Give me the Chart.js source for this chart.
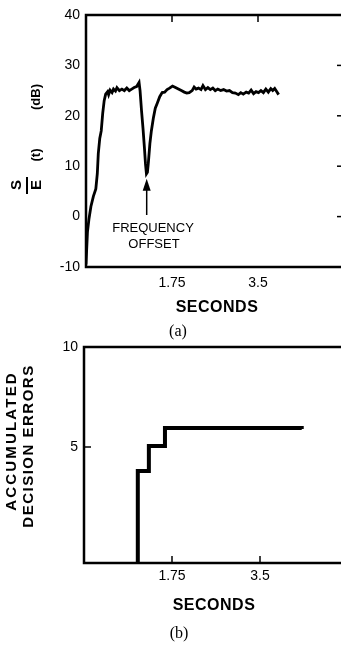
<!DOCTYPE html>
<html>
<head>
<meta charset="utf-8">
<title>S/E and accumulated decision errors</title>
<script src="https://cdn.jsdelivr.net/npm/chart.js@4.4.0/dist/chart.umd.min.js"></script>
<style>
    html, body { margin: 0; padding: 0; background: #fff; width: 341px; height: 646px; overflow: hidden; position: relative; }
    canvas { position: absolute; left: 0; }
    #chartA { top: 0; }
    #chartB { top: 330px; }
</style>
</head>
<body>
<canvas id="chartA" width="350" height="345"></canvas>
<canvas id="chartB" width="350" height="316"></canvas>
<script>
// (a) S/E(t) in dB against time
const snrTimes = [0.00, 0.03, 0.06, 0.10, 0.15, 0.20, 0.23, 0.25, 0.28, 0.31, 0.34, 0.37, 0.40, 0.44, 0.46, 0.49,
    0.53, 0.56, 0.60, 0.63, 0.68, 0.73, 0.78, 0.83, 0.88, 0.93, 0.98, 1.03, 1.08, 1.10, 1.13, 1.16,
    1.19, 1.21, 1.23, 1.25, 1.27, 1.30, 1.33, 1.37, 1.41, 1.45, 1.50, 1.55, 1.60, 1.65, 1.70, 1.76,
    1.82, 1.88, 1.94, 2.00, 2.05, 2.10, 2.16, 2.20, 2.24, 2.29, 2.34, 2.38, 2.43, 2.48, 2.53, 2.58,
    2.63, 2.68, 2.74, 2.80, 2.86, 2.92, 2.98, 3.04, 3.10, 3.15, 3.20, 3.26, 3.31, 3.36, 3.41, 3.46,
    3.51, 3.56, 3.61, 3.66, 3.71, 3.76, 3.80, 3.84, 3.88, 3.92];
const snrValues = [-9.5, -3.0, -0.5, 2.0, 4.0, 5.5, 8.5, 12.5, 15.5, 17.0, 20.5, 23.0, 24.3, 24.8, 24.2, 25.1,
    24.6, 25.3, 24.9, 25.6, 25.0, 25.3, 25.0, 25.5, 25.0, 25.3, 25.6, 25.8, 26.6, 25.0, 21.0, 17.5,
    13.5, 10.5, 8.5, 8.8, 10.8, 14.5, 17.0, 19.5, 21.5, 22.5, 23.8, 24.6, 24.7, 25.2, 25.5, 25.9,
    25.6, 25.3, 25.0, 24.7, 24.5, 24.6, 25.0, 25.7, 25.3, 25.5, 25.2, 26.0, 25.2, 25.6, 25.2, 25.5,
    25.0, 25.3, 25.0, 25.2, 24.9, 25.0, 24.6, 24.5, 24.2, 24.6, 24.3, 24.7, 24.5, 25.1, 24.4, 24.8,
    24.6, 25.0, 24.6, 25.3, 24.7, 25.4, 25.0, 25.4, 24.8, 24.2];
const snrTicks = [-10, 0, 10, 20, 30, 40];
const snrInnerTicks = [0, 10, 20, 30];
const secondTicks = [1.75, 3.5];
const offsetTime = 1.235;   // where the arrow points

// (b) accumulated decision errors, stepped trace
const errorTimes = [1.07, 1.07, 1.29, 1.61, 4.33];
const errorCounts = [-0.8, 3.8, 5.05, 5.95, 5.9];
const errorTicks = [5, 10];

const SANS = '"Liberation Sans", Arial, sans-serif';
const SERIF = '"Liberation Serif", "Times New Roman", serif';

function toPoints(xs, ys) {
    return xs.map((x, i) => ({ x: x, y: ys[i] }));
}

// frame round the plot area plus the small inward tick marks
const framePlugin = {
    id: 'frame',
    afterDatasetsDraw(chart, args, opts) {
        const { ctx, chartArea: a, scales } = chart;
        ctx.save();
        ctx.strokeStyle = '#000';
        ctx.lineWidth = 2.5;
        ctx.strokeRect(a.left, a.top, a.right - a.left, a.bottom - a.top);
        ctx.lineWidth = 1.5;
        (opts.xMarks || []).forEach(v => {
            const x = scales.x.getPixelForValue(v);
            const y0 = opts.xEdge === 'top' ? a.top : a.bottom;
            const dir = opts.xEdge === 'top' ? 1 : -1;
            ctx.beginPath();
            ctx.moveTo(x, y0);
            ctx.lineTo(x, y0 + dir * 7);
            ctx.stroke();
        });
        (opts.yMarks || []).forEach(v => {
            const y = scales.y.getPixelForValue(v);
            const x0 = opts.yEdge === 'right' ? a.right : a.left;
            const dir = opts.yEdge === 'right' ? -1 : 1;
            ctx.beginPath();
            ctx.moveTo(x0, y);
            ctx.lineTo(x0 + dir * 7, y);
            ctx.stroke();
        });
        ctx.restore();
    }
};

// titles, captions and the annotation
const textPlugin = {
    id: 'texts',
    afterDraw(chart, args, opts) {
        const ctx = chart.ctx;
        ctx.save();
        ctx.fillStyle = '#000';
        ctx.textAlign = 'center';
        ctx.textBaseline = 'middle';
        (opts.items || []).forEach(t => {
            ctx.save();
            ctx.font = t.font;
            ctx.letterSpacing = (t.spacing || 0) + 'px';
            ctx.translate(t.x, t.y);
            if (t.rotate) ctx.rotate(-Math.PI / 2);
            ctx.fillText(t.text, 0, 0);
            ctx.restore();
        });
        if (opts.fractionBar) {
            const f = opts.fractionBar;
            ctx.lineWidth = 2;
            ctx.beginPath();
            ctx.moveTo(f.x, f.y1);
            ctx.lineTo(f.x, f.y2);
            ctx.stroke();
        }
        if (opts.arrow) {
            const x = chart.scales.x.getPixelForValue(opts.arrow.time);
            const tip = chart.scales.y.getPixelForValue(opts.arrow.value);
            ctx.lineWidth = 1.5;
            ctx.beginPath();
            ctx.moveTo(x, opts.arrow.tail);
            ctx.lineTo(x, tip + 10);
            ctx.stroke();
            ctx.beginPath();
            ctx.moveTo(x, tip);
            ctx.lineTo(x - 4, tip + 12);
            ctx.lineTo(x + 4, tip + 12);
            ctx.closePath();
            ctx.fill();
        }
        ctx.restore();
    }
};

function xScale(height, pad) {
    return {
        type: 'linear',
        min: 0,
        max: 5.25,
        afterBuildTicks: s => { s.ticks = secondTicks.map(v => ({ value: v })); },
        afterFit: s => { s.height = height; },
        grid: { display: false, drawTicks: false },
        border: { display: false },
        ticks: {
            padding: pad,
            autoSkip: false,
            maxRotation: 0,
            color: '#000',
            font: { family: SANS, size: 14 },
            callback: v => String(v)
        }
    };
}

function yScale(min, max, tickValues, width) {
    return {
        type: 'linear',
        min: min,
        max: max,
        afterBuildTicks: s => { s.ticks = tickValues.map(v => ({ value: v })); },
        afterFit: s => { s.width = width; },
        grid: { display: false, drawTicks: false },
        border: { display: false },
        ticks: {
            padding: 6,
            color: '#000',
            font: { family: SANS, size: 14 },
            callback: v => String(v)
        }
    };
}

new Chart(document.getElementById('chartA'), {
    type: 'line',
    data: {
        datasets: [{
            data: toPoints(snrTimes, snrValues),
            borderColor: '#000',
            borderWidth: 2.8,
            pointRadius: 0,
            tension: 0,
            fill: false
        }]
    },
    options: {
        responsive: false,
        animation: false,
        devicePixelRatio: 1,
        layout: { padding: { left: 0, top: 15, right: 6, bottom: 48 } },
        plugins: {
            legend: { display: false },
            tooltip: { enabled: false },
            frame: { xMarks: secondTicks, xEdge: 'top', yMarks: snrInnerTicks, yEdge: 'right' },
            texts: {
                items: [
                    { text: 'S', x: 17, y: 185, font: 'bold 15px ' + SANS, rotate: true },
                    { text: 'E', x: 37, y: 185, font: 'bold 15px ' + SANS, rotate: true },
                    { text: '(t)', x: 36, y: 155, font: 'bold 13px ' + SANS, rotate: true },
                    { text: '(dB)', x: 36, y: 97, font: 'bold 13px ' + SANS, rotate: true },
                    { text: 'FREQUENCY', x: 153, y: 228, font: '13px ' + SANS },
                    { text: 'OFFSET', x: 154, y: 244, font: '13px ' + SANS },
                    { text: 'SECONDS', x: 217, y: 308, font: 'bold 16px ' + SANS, spacing: 0.5 },
                    { text: '(a)', x: 178, y: 332, font: '16px ' + SERIF }
                ],
                fractionBar: { x: 27, y1: 177, y2: 194 },
                arrow: { time: offsetTime, value: 7.5, tail: 215 }
            }
        },
        scales: {
            x: xScale(30, 8),
            y: yScale(-10, 40, snrTicks, 86)
        }
    },
    plugins: [framePlugin, textPlugin]
});

new Chart(document.getElementById('chartB'), {
    type: 'line',
    data: {
        datasets: [{
            data: toPoints(errorTimes, errorCounts),
            stepped: 'before',
            borderColor: '#000',
            borderWidth: 4,
            pointRadius: 0,
            fill: false
        }]
    },
    options: {
        responsive: false,
        animation: false,
        devicePixelRatio: 1,
        layout: { padding: { left: 0, top: 17, right: 2, bottom: 53 } },
        plugins: {
            legend: { display: false },
            tooltip: { enabled: false },
            frame: { xMarks: secondTicks, xEdge: 'bottom', yMarks: [5], yEdge: 'left' },
            texts: {
                items: [
                    { text: 'ACCUMULATED', x: 12, y: 111, font: 'bold 15px ' + SANS, rotate: true, spacing: 2.2 },
                    { text: 'DECISION ERRORS', x: 29, y: 116, font: 'bold 15px ' + SANS, rotate: true, spacing: 1.5 },
                    { text: 'SECONDS', x: 214, y: 276, font: 'bold 16px ' + SANS, spacing: 0.5 },
                    { text: '(b)', x: 179, y: 304, font: '16px ' + SERIF }
                ]
            }
        },
        scales: {
            x: xScale(30, 5),
            y: yScale(-0.8, 10, errorTicks, 84)
        }
    },
    plugins: [framePlugin, textPlugin]
});
</script>
</body>
</html>
